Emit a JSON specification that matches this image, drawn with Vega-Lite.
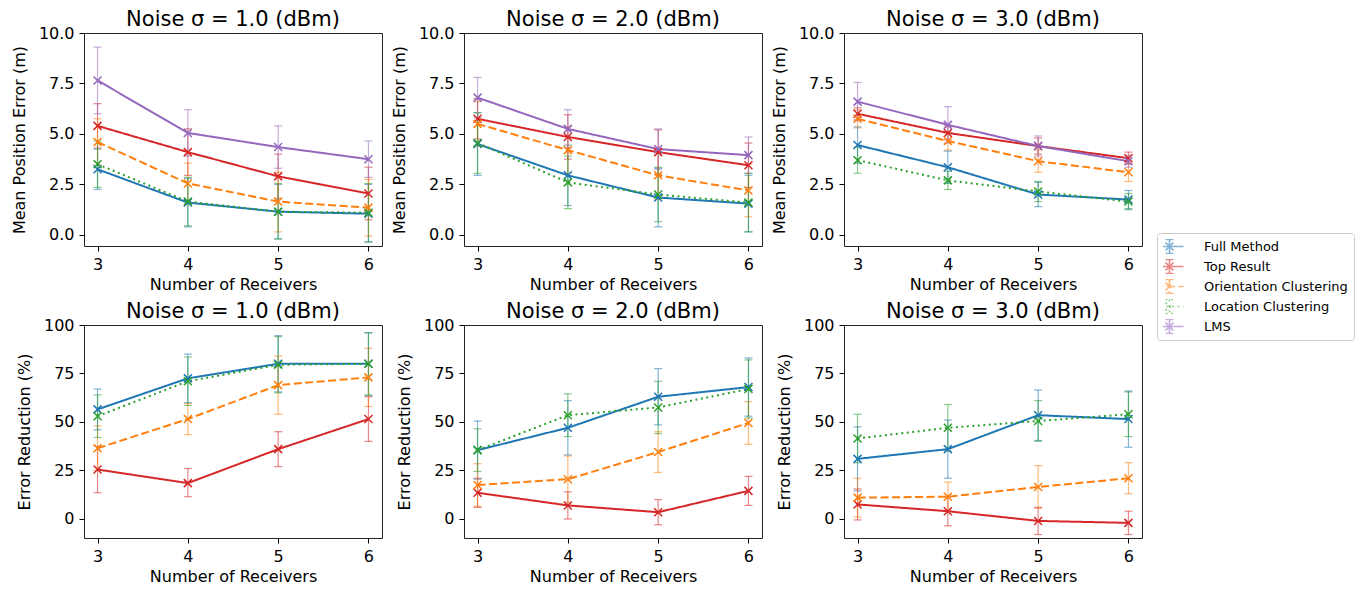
{
  "$schema": "https://vega.github.io/schema/vega-lite/v6.json",
  "padding": {"left": 10, "top": 8, "right": 5, "bottom": 5},
  "background": "white",
  "config": {
    "font": "DejaVu Sans",
    "view": {"stroke": "#222222", "strokeWidth": 1},
    "axis": {"grid": false, "domain": false, "labelFontSize": 16, "titleFontSize": 16, "titleFontWeight": "normal", "labelColor": "#000000", "titleColor": "#000000", "tickColor": "#000000", "tickSize": 5, "labelPadding": 5},
    "axisX": {"titlePadding": 4},
    "axisY": {"titlePadding": 11},
    "title": {"fontSize": 21, "fontWeight": "normal", "color": "#000000", "offset": -5, "frame": "group"},
    "legend": {"orient": "none", "legendX": 1073, "legendY": 200, "symbolType": "M-2.8,0L2.8,0M0,-1.4L0,1.4M-0.8,-1.4L0.8,-1.4M-0.8,1.4L0.8,1.4M-0.8,-0.8L0.8,0.8M-0.8,0.8L0.8,-0.8", "symbolSize": 100, "symbolStrokeWidth": 1.6, "symbolFillColor": "transparent", "labelFontSize": 13, "labelColor": "#000000", "strokeColor": "#cccccc", "cornerRadius": 3, "padding": 6, "fillColor": "white", "rowPadding": 5, "clipHeight": 15, "labelOffset": 28}
  },
  "data": {"values": [
    {"p":1,"m":"Full Method","n":3,"v":3.25,"lo":2.25,"hi":4.25},
    {"p":1,"m":"Full Method","n":4,"v":1.6,"lo":0.4,"hi":2.8},
    {"p":1,"m":"Full Method","n":5,"v":1.15,"lo":-0.2,"hi":2.5},
    {"p":1,"m":"Full Method","n":6,"v":1.05,"lo":-0.35,"hi":2.5},
    {"p":1,"m":"Top Result","n":3,"v":5.4,"lo":4.3,"hi":6.5},
    {"p":1,"m":"Top Result","n":4,"v":4.1,"lo":2.95,"hi":5.25},
    {"p":1,"m":"Top Result","n":5,"v":2.9,"lo":1.8,"hi":4.0},
    {"p":1,"m":"Top Result","n":6,"v":2.05,"lo":0.75,"hi":3.35},
    {"p":1,"m":"Orientation Clustering","n":3,"v":4.6,"lo":3.45,"hi":5.75},
    {"p":1,"m":"Orientation Clustering","n":4,"v":2.55,"lo":1.55,"hi":3.55},
    {"p":1,"m":"Orientation Clustering","n":5,"v":1.65,"lo":0.15,"hi":3.1},
    {"p":1,"m":"Orientation Clustering","n":6,"v":1.35,"lo":-0.05,"hi":2.75},
    {"p":1,"m":"Location Clustering","n":3,"v":3.5,"lo":2.35,"hi":4.65},
    {"p":1,"m":"Location Clustering","n":4,"v":1.65,"lo":0.45,"hi":2.85},
    {"p":1,"m":"Location Clustering","n":5,"v":1.15,"lo":-0.2,"hi":2.55},
    {"p":1,"m":"Location Clustering","n":6,"v":1.1,"lo":-0.35,"hi":2.55},
    {"p":1,"m":"LMS","n":3,"v":7.65,"lo":6.0,"hi":9.3},
    {"p":1,"m":"LMS","n":4,"v":5.05,"lo":3.9,"hi":6.2},
    {"p":1,"m":"LMS","n":5,"v":4.35,"lo":3.3,"hi":5.4},
    {"p":1,"m":"LMS","n":6,"v":3.75,"lo":2.85,"hi":4.65},

    {"p":2,"m":"Full Method","n":3,"v":4.5,"lo":2.95,"hi":6.05},
    {"p":2,"m":"Full Method","n":4,"v":2.95,"lo":1.45,"hi":4.45},
    {"p":2,"m":"Full Method","n":5,"v":1.85,"lo":0.4,"hi":3.3},
    {"p":2,"m":"Full Method","n":6,"v":1.55,"lo":0.15,"hi":2.95},
    {"p":2,"m":"Top Result","n":3,"v":5.75,"lo":4.75,"hi":6.75},
    {"p":2,"m":"Top Result","n":4,"v":4.85,"lo":3.75,"hi":5.95},
    {"p":2,"m":"Top Result","n":5,"v":4.1,"lo":3.0,"hi":5.2},
    {"p":2,"m":"Top Result","n":6,"v":3.45,"lo":2.35,"hi":4.55},
    {"p":2,"m":"Orientation Clustering","n":3,"v":5.5,"lo":4.4,"hi":6.6},
    {"p":2,"m":"Orientation Clustering","n":4,"v":4.2,"lo":3.05,"hi":5.35},
    {"p":2,"m":"Orientation Clustering","n":5,"v":2.95,"lo":1.75,"hi":4.15},
    {"p":2,"m":"Orientation Clustering","n":6,"v":2.2,"lo":0.9,"hi":3.5},
    {"p":2,"m":"Location Clustering","n":3,"v":4.55,"lo":3.05,"hi":6.05},
    {"p":2,"m":"Location Clustering","n":4,"v":2.6,"lo":1.3,"hi":3.9},
    {"p":2,"m":"Location Clustering","n":5,"v":2.0,"lo":0.65,"hi":3.35},
    {"p":2,"m":"Location Clustering","n":6,"v":1.6,"lo":0.15,"hi":3.05},
    {"p":2,"m":"LMS","n":3,"v":6.8,"lo":5.8,"hi":7.8},
    {"p":2,"m":"LMS","n":4,"v":5.25,"lo":4.3,"hi":6.2},
    {"p":2,"m":"LMS","n":5,"v":4.25,"lo":3.25,"hi":5.25},
    {"p":2,"m":"LMS","n":6,"v":3.95,"lo":3.05,"hi":4.85},

    {"p":3,"m":"Full Method","n":3,"v":4.45,"lo":3.55,"hi":5.35},
    {"p":3,"m":"Full Method","n":4,"v":3.35,"lo":2.55,"hi":4.15},
    {"p":3,"m":"Full Method","n":5,"v":2.0,"lo":1.4,"hi":2.6},
    {"p":3,"m":"Full Method","n":6,"v":1.75,"lo":1.3,"hi":2.2},
    {"p":3,"m":"Top Result","n":3,"v":6.0,"lo":5.7,"hi":6.3},
    {"p":3,"m":"Top Result","n":4,"v":5.05,"lo":4.7,"hi":5.4},
    {"p":3,"m":"Top Result","n":5,"v":4.4,"lo":4.0,"hi":4.8},
    {"p":3,"m":"Top Result","n":6,"v":3.8,"lo":3.5,"hi":4.1},
    {"p":3,"m":"Orientation Clustering","n":3,"v":5.75,"lo":5.3,"hi":6.2},
    {"p":3,"m":"Orientation Clustering","n":4,"v":4.65,"lo":4.2,"hi":5.1},
    {"p":3,"m":"Orientation Clustering","n":5,"v":3.65,"lo":3.1,"hi":4.2},
    {"p":3,"m":"Orientation Clustering","n":6,"v":3.1,"lo":2.65,"hi":3.55},
    {"p":3,"m":"Location Clustering","n":3,"v":3.7,"lo":3.05,"hi":4.35},
    {"p":3,"m":"Location Clustering","n":4,"v":2.7,"lo":2.25,"hi":3.15},
    {"p":3,"m":"Location Clustering","n":5,"v":2.15,"lo":1.65,"hi":2.65},
    {"p":3,"m":"Location Clustering","n":6,"v":1.65,"lo":1.25,"hi":2.05},
    {"p":3,"m":"LMS","n":3,"v":6.6,"lo":5.65,"hi":7.55},
    {"p":3,"m":"LMS","n":4,"v":5.45,"lo":4.55,"hi":6.35},
    {"p":3,"m":"LMS","n":5,"v":4.4,"lo":3.9,"hi":4.9},
    {"p":3,"m":"LMS","n":6,"v":3.65,"lo":3.35,"hi":3.95},

    {"p":4,"m":"Full Method","n":3,"v":56.5,"lo":46,"hi":67},
    {"p":4,"m":"Full Method","n":4,"v":72.5,"lo":60,"hi":85},
    {"p":4,"m":"Full Method","n":5,"v":80,"lo":65.5,"hi":94.5},
    {"p":4,"m":"Full Method","n":6,"v":80,"lo":63.5,"hi":96},
    {"p":4,"m":"Top Result","n":3,"v":25.5,"lo":13.5,"hi":37.5},
    {"p":4,"m":"Top Result","n":4,"v":18.5,"lo":11.5,"hi":26},
    {"p":4,"m":"Top Result","n":5,"v":36,"lo":27,"hi":45},
    {"p":4,"m":"Top Result","n":6,"v":51.5,"lo":40,"hi":63},
    {"p":4,"m":"Orientation Clustering","n":3,"v":36.5,"lo":25,"hi":48},
    {"p":4,"m":"Orientation Clustering","n":4,"v":51.5,"lo":43.5,"hi":59.5},
    {"p":4,"m":"Orientation Clustering","n":5,"v":69,"lo":54,"hi":84},
    {"p":4,"m":"Orientation Clustering","n":6,"v":73,"lo":58,"hi":88},
    {"p":4,"m":"Location Clustering","n":3,"v":53,"lo":42,"hi":64},
    {"p":4,"m":"Location Clustering","n":4,"v":71,"lo":58.5,"hi":83.5},
    {"p":4,"m":"Location Clustering","n":5,"v":79.5,"lo":65,"hi":94},
    {"p":4,"m":"Location Clustering","n":6,"v":80,"lo":64,"hi":96},

    {"p":5,"m":"Full Method","n":3,"v":35.5,"lo":20.5,"hi":50.5},
    {"p":5,"m":"Full Method","n":4,"v":47,"lo":33,"hi":61},
    {"p":5,"m":"Full Method","n":5,"v":63,"lo":48.5,"hi":77.5},
    {"p":5,"m":"Full Method","n":6,"v":68,"lo":53,"hi":83},
    {"p":5,"m":"Top Result","n":3,"v":13.5,"lo":6,"hi":21},
    {"p":5,"m":"Top Result","n":4,"v":7,"lo":0,"hi":14},
    {"p":5,"m":"Top Result","n":5,"v":3.5,"lo":-3,"hi":10},
    {"p":5,"m":"Top Result","n":6,"v":14.5,"lo":7,"hi":22},
    {"p":5,"m":"Orientation Clustering","n":3,"v":17.5,"lo":6.5,"hi":28.5},
    {"p":5,"m":"Orientation Clustering","n":4,"v":20.5,"lo":8.5,"hi":32.5},
    {"p":5,"m":"Orientation Clustering","n":5,"v":34.5,"lo":24,"hi":45},
    {"p":5,"m":"Orientation Clustering","n":6,"v":49.5,"lo":38.5,"hi":60.5},
    {"p":5,"m":"Location Clustering","n":3,"v":35.5,"lo":24.5,"hi":46.5},
    {"p":5,"m":"Location Clustering","n":4,"v":53.5,"lo":42.5,"hi":64.5},
    {"p":5,"m":"Location Clustering","n":5,"v":57.5,"lo":44,"hi":71},
    {"p":5,"m":"Location Clustering","n":6,"v":67,"lo":52,"hi":82},

    {"p":6,"m":"Full Method","n":3,"v":31,"lo":14.5,"hi":47.5},
    {"p":6,"m":"Full Method","n":4,"v":36,"lo":21,"hi":51},
    {"p":6,"m":"Full Method","n":5,"v":53.5,"lo":40.5,"hi":66.5},
    {"p":6,"m":"Full Method","n":6,"v":51.5,"lo":37,"hi":66},
    {"p":6,"m":"Top Result","n":3,"v":7.5,"lo":-0.5,"hi":15.5},
    {"p":6,"m":"Top Result","n":4,"v":4,"lo":-3.5,"hi":11.5},
    {"p":6,"m":"Top Result","n":5,"v":-1,"lo":-8,"hi":6},
    {"p":6,"m":"Top Result","n":6,"v":-2,"lo":-8,"hi":4},
    {"p":6,"m":"Orientation Clustering","n":3,"v":11,"lo":1,"hi":21},
    {"p":6,"m":"Orientation Clustering","n":4,"v":11.5,"lo":4,"hi":19},
    {"p":6,"m":"Orientation Clustering","n":5,"v":16.5,"lo":5.5,"hi":27.5},
    {"p":6,"m":"Orientation Clustering","n":6,"v":21,"lo":13,"hi":29},
    {"p":6,"m":"Location Clustering","n":3,"v":41.5,"lo":29,"hi":54},
    {"p":6,"m":"Location Clustering","n":4,"v":47,"lo":35,"hi":59},
    {"p":6,"m":"Location Clustering","n":5,"v":50.5,"lo":40,"hi":61},
    {"p":6,"m":"Location Clustering","n":6,"v":54,"lo":42.5,"hi":65.5}
  ]},
  "columns": 3,
  "spacing": {"row": 79, "column": 82},
  "bounds": "flush",
  "concat": [
    {"width": 298, "height": 213, "title": "Noise σ = 1.0 (dBm)", "transform": [{"filter": "datum.p == 1"}],
     "encoding": {"x": {"field": "n", "type": "quantitative", "scale": {"domain": [2.85, 6.15], "nice": false, "zero": false}, "axis": {"values": [3,4,5,6], "format": "d", "title": "Number of Receivers"}},
       "color": {"field": "m", "type": "nominal", "title": null, "scale": {"domain": ["Full Method","Top Result","Orientation Clustering","Location Clustering","LMS"], "range": ["#1f77b4","#d62728","#ff7f0e","#2ca02c","#9467bd"]}}},
     "layer": [
       {"mark": {"type": "errorbar", "thickness": 1.2, "rule": {"opacity": 0.55}, "ticks": {"size": 8, "opacity": 0.55}}, "encoding": {"y": {"field": "lo", "type": "quantitative", "title": "Mean Position Error (m)", "scale": {"domain": [-0.55, 10], "nice": false, "zero": false}, "axis": {"values": [0,2.5,5,7.5,10], "format": ".1f"}}, "y2": {"field": "hi"}}},
       {"mark": {"type": "line", "strokeWidth": 2}, "encoding": {"y": {"field": "v", "type": "quantitative", "title": "Mean Position Error (m)"}, "strokeDash": {"field": "m", "type": "nominal", "title": null, "scale": {"domain": ["Full Method","Top Result","Orientation Clustering","Location Clustering","LMS"], "range": [[1,0],[1,0],[8,3.5],[2,3.5],[1,0]]}}}},
       {"mark": {"type": "point", "shape": "M-1,-1L1,1M-1,1L1,-1", "size": 64, "strokeWidth": 1.5, "filled": false, "opacity": 1}, "encoding": {"y": {"field": "v", "type": "quantitative", "title": "Mean Position Error (m)"}}}
     ]},
    {"width": 298, "height": 213, "title": "Noise σ = 2.0 (dBm)", "transform": [{"filter": "datum.p == 2"}],
     "encoding": {"x": {"field": "n", "type": "quantitative", "scale": {"domain": [2.85, 6.15], "nice": false, "zero": false}, "axis": {"values": [3,4,5,6], "format": "d", "title": "Number of Receivers"}},
       "color": {"field": "m", "type": "nominal", "title": null, "scale": {"domain": ["Full Method","Top Result","Orientation Clustering","Location Clustering","LMS"], "range": ["#1f77b4","#d62728","#ff7f0e","#2ca02c","#9467bd"]}}},
     "layer": [
       {"mark": {"type": "errorbar", "thickness": 1.2, "rule": {"opacity": 0.55}, "ticks": {"size": 8, "opacity": 0.55}}, "encoding": {"y": {"field": "lo", "type": "quantitative", "title": "Mean Position Error (m)", "scale": {"domain": [-0.55, 10], "nice": false, "zero": false}, "axis": {"values": [0,2.5,5,7.5,10], "format": ".1f"}}, "y2": {"field": "hi"}}},
       {"mark": {"type": "line", "strokeWidth": 2}, "encoding": {"y": {"field": "v", "type": "quantitative", "title": "Mean Position Error (m)"}, "strokeDash": {"field": "m", "type": "nominal", "title": null, "scale": {"domain": ["Full Method","Top Result","Orientation Clustering","Location Clustering","LMS"], "range": [[1,0],[1,0],[8,3.5],[2,3.5],[1,0]]}}}},
       {"mark": {"type": "point", "shape": "M-1,-1L1,1M-1,1L1,-1", "size": 64, "strokeWidth": 1.5, "filled": false, "opacity": 1}, "encoding": {"y": {"field": "v", "type": "quantitative", "title": "Mean Position Error (m)"}}}
     ]},
    {"width": 298, "height": 213, "title": "Noise σ = 3.0 (dBm)", "transform": [{"filter": "datum.p == 3"}],
     "encoding": {"x": {"field": "n", "type": "quantitative", "scale": {"domain": [2.85, 6.15], "nice": false, "zero": false}, "axis": {"values": [3,4,5,6], "format": "d", "title": "Number of Receivers"}},
       "color": {"field": "m", "type": "nominal", "title": null, "scale": {"domain": ["Full Method","Top Result","Orientation Clustering","Location Clustering","LMS"], "range": ["#1f77b4","#d62728","#ff7f0e","#2ca02c","#9467bd"]}}},
     "layer": [
       {"mark": {"type": "errorbar", "thickness": 1.2, "rule": {"opacity": 0.55}, "ticks": {"size": 8, "opacity": 0.55}}, "encoding": {"y": {"field": "lo", "type": "quantitative", "title": "Mean Position Error (m)", "scale": {"domain": [-0.55, 10], "nice": false, "zero": false}, "axis": {"values": [0,2.5,5,7.5,10], "format": ".1f"}}, "y2": {"field": "hi"}}},
       {"mark": {"type": "line", "strokeWidth": 2}, "encoding": {"y": {"field": "v", "type": "quantitative", "title": "Mean Position Error (m)"}, "strokeDash": {"field": "m", "type": "nominal", "title": null, "scale": {"domain": ["Full Method","Top Result","Orientation Clustering","Location Clustering","LMS"], "range": [[1,0],[1,0],[8,3.5],[2,3.5],[1,0]]}}}},
       {"mark": {"type": "point", "shape": "M-1,-1L1,1M-1,1L1,-1", "size": 64, "strokeWidth": 1.5, "filled": false, "opacity": 1}, "encoding": {"y": {"field": "v", "type": "quantitative", "title": "Mean Position Error (m)"}}}
     ]},
    {"width": 298, "height": 213, "title": "Noise σ = 1.0 (dBm)", "transform": [{"filter": "datum.p == 4"}],
     "encoding": {"x": {"field": "n", "type": "quantitative", "scale": {"domain": [2.85, 6.15], "nice": false, "zero": false}, "axis": {"values": [3,4,5,6], "format": "d", "title": "Number of Receivers"}},
       "color": {"field": "m", "type": "nominal", "title": null, "scale": {"domain": ["Full Method","Top Result","Orientation Clustering","Location Clustering","LMS"], "range": ["#1f77b4","#d62728","#ff7f0e","#2ca02c","#9467bd"]}}},
     "layer": [
       {"mark": {"type": "errorbar", "thickness": 1.2, "rule": {"opacity": 0.55}, "ticks": {"size": 8, "opacity": 0.55}}, "encoding": {"y": {"field": "lo", "type": "quantitative", "title": "Error Reduction (%)", "scale": {"domain": [-9.8, 100], "nice": false, "zero": false}, "axis": {"values": [0,25,50,75,100], "format": "d"}}, "y2": {"field": "hi"}}},
       {"mark": {"type": "line", "strokeWidth": 2}, "encoding": {"y": {"field": "v", "type": "quantitative", "title": "Error Reduction (%)"}, "strokeDash": {"field": "m", "type": "nominal", "title": null, "scale": {"domain": ["Full Method","Top Result","Orientation Clustering","Location Clustering","LMS"], "range": [[1,0],[1,0],[8,3.5],[2,3.5],[1,0]]}}}},
       {"mark": {"type": "point", "shape": "M-1,-1L1,1M-1,1L1,-1", "size": 64, "strokeWidth": 1.5, "filled": false, "opacity": 1}, "encoding": {"y": {"field": "v", "type": "quantitative", "title": "Error Reduction (%)"}}}
     ]},
    {"width": 298, "height": 213, "title": "Noise σ = 2.0 (dBm)", "transform": [{"filter": "datum.p == 5"}],
     "encoding": {"x": {"field": "n", "type": "quantitative", "scale": {"domain": [2.85, 6.15], "nice": false, "zero": false}, "axis": {"values": [3,4,5,6], "format": "d", "title": "Number of Receivers"}},
       "color": {"field": "m", "type": "nominal", "title": null, "scale": {"domain": ["Full Method","Top Result","Orientation Clustering","Location Clustering","LMS"], "range": ["#1f77b4","#d62728","#ff7f0e","#2ca02c","#9467bd"]}}},
     "layer": [
       {"mark": {"type": "errorbar", "thickness": 1.2, "rule": {"opacity": 0.55}, "ticks": {"size": 8, "opacity": 0.55}}, "encoding": {"y": {"field": "lo", "type": "quantitative", "title": "Error Reduction (%)", "scale": {"domain": [-9.8, 100], "nice": false, "zero": false}, "axis": {"values": [0,25,50,75,100], "format": "d"}}, "y2": {"field": "hi"}}},
       {"mark": {"type": "line", "strokeWidth": 2}, "encoding": {"y": {"field": "v", "type": "quantitative", "title": "Error Reduction (%)"}, "strokeDash": {"field": "m", "type": "nominal", "title": null, "scale": {"domain": ["Full Method","Top Result","Orientation Clustering","Location Clustering","LMS"], "range": [[1,0],[1,0],[8,3.5],[2,3.5],[1,0]]}}}},
       {"mark": {"type": "point", "shape": "M-1,-1L1,1M-1,1L1,-1", "size": 64, "strokeWidth": 1.5, "filled": false, "opacity": 1}, "encoding": {"y": {"field": "v", "type": "quantitative", "title": "Error Reduction (%)"}}}
     ]},
    {"width": 298, "height": 213, "title": "Noise σ = 3.0 (dBm)", "transform": [{"filter": "datum.p == 6"}],
     "encoding": {"x": {"field": "n", "type": "quantitative", "scale": {"domain": [2.85, 6.15], "nice": false, "zero": false}, "axis": {"values": [3,4,5,6], "format": "d", "title": "Number of Receivers"}},
       "color": {"field": "m", "type": "nominal", "title": null, "scale": {"domain": ["Full Method","Top Result","Orientation Clustering","Location Clustering","LMS"], "range": ["#1f77b4","#d62728","#ff7f0e","#2ca02c","#9467bd"]}}},
     "layer": [
       {"mark": {"type": "errorbar", "thickness": 1.2, "rule": {"opacity": 0.55}, "ticks": {"size": 8, "opacity": 0.55}}, "encoding": {"y": {"field": "lo", "type": "quantitative", "title": "Error Reduction (%)", "scale": {"domain": [-9.8, 100], "nice": false, "zero": false}, "axis": {"values": [0,25,50,75,100], "format": "d"}}, "y2": {"field": "hi"}}},
       {"mark": {"type": "line", "strokeWidth": 2}, "encoding": {"y": {"field": "v", "type": "quantitative", "title": "Error Reduction (%)"}, "strokeDash": {"field": "m", "type": "nominal", "title": null, "scale": {"domain": ["Full Method","Top Result","Orientation Clustering","Location Clustering","LMS"], "range": [[1,0],[1,0],[8,3.5],[2,3.5],[1,0]]}}}},
       {"mark": {"type": "point", "shape": "M-1,-1L1,1M-1,1L1,-1", "size": 64, "strokeWidth": 1.5, "filled": false, "opacity": 1}, "encoding": {"y": {"field": "v", "type": "quantitative", "title": "Error Reduction (%)"}}}
     ]}
  ]
}
